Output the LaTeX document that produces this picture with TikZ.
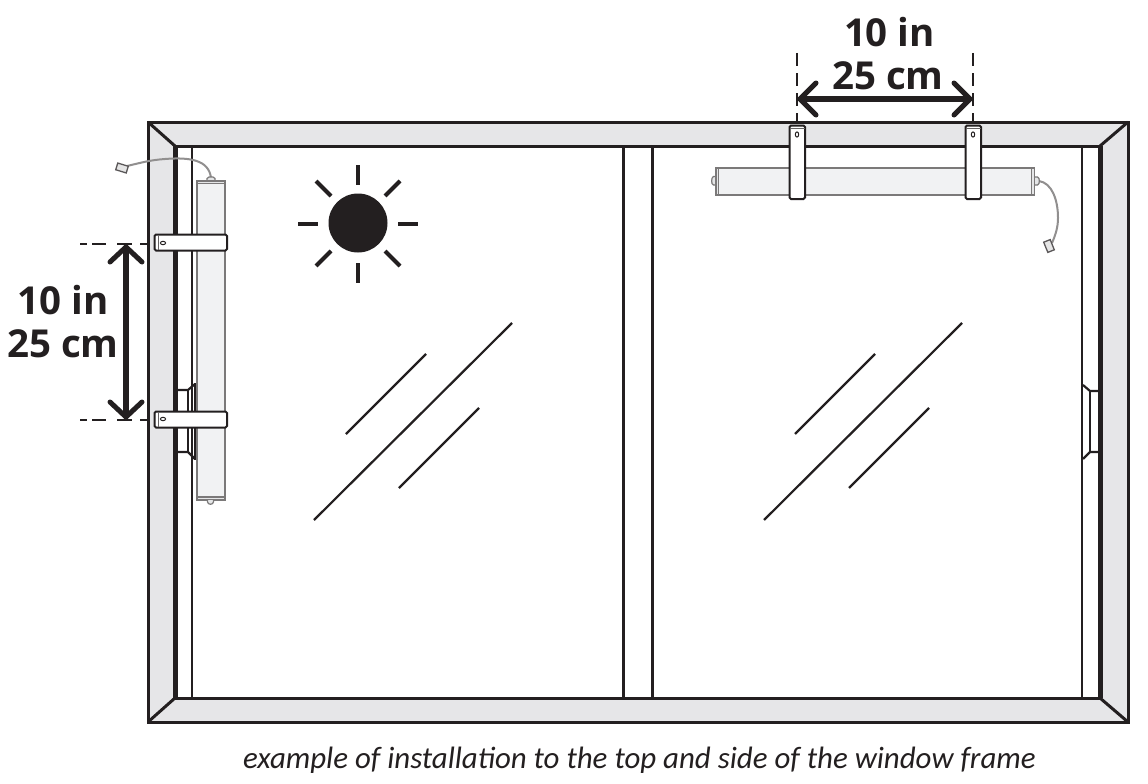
\documentclass[tikz,border=0pt]{standalone}
\usepackage{fontspec}
\setmainfont{Open Sans}
\newfontfamily\capfont{Carlito}
\definecolor{ink}{HTML}{231F20}
\definecolor{framegray}{HTML}{E6E6E8}
\definecolor{tubegray}{HTML}{F1F2F3}
\tikzset{
  frameline/.style={draw=ink,line width=3pt,line join=miter},
  thickjamb/.style={draw=ink,line width=4.5pt},
  thinjamb/.style={draw=ink,line width=2.6pt},
  handleline/.style={draw=ink,line width=2.2pt},
  glass/.style={draw=ink,line width=2.2pt},
  ray/.style={draw=ink,line width=4pt},
  dimline/.style={draw=ink,line width=6pt},
  barb/.style={draw=ink,line width=5pt,line cap=round,line join=miter},
  dashline/.style={draw=ink,line width=2pt},
  tube/.style={draw=ink!60,fill=tubegray,line width=1.5pt},
  tubecap/.style={draw=ink!60,fill=tubegray!95!black,line width=1.2pt},
  clipbox/.style={draw=ink,fill=white,line width=2pt,rounded corners=1.5pt},
  hole/.style={draw=ink,fill=white,line width=1pt},
  cable/.style={draw=ink!50,line width=2pt},
  plugbox/.style={draw=ink!75,fill=white!90!black,line width=1.3pt},
  dimtext/.style={font=\fontsize{38.5}{38.5}\selectfont\bfseries,text=ink,inner sep=0pt,anchor=base},
  captext/.style={font=\capfont\itshape\fontsize{30.9}{30.9}\selectfont,text=ink,inner sep=0pt,anchor=center},
}
\begin{document}
\begin{tikzpicture}[x=1pt,y=-1pt]
\useasboundingbox[fill=white] (0,0) rectangle (1148,784);
% frame
\path[fill=framegray,even odd rule] (148,122) rectangle (1128,722) (175,146) rectangle (1100,698);
\draw[frameline] (148,122) rectangle (1128,722);
\draw[frameline] (175,146) -- (1100,146);
\draw[frameline] (175,698) -- (1100,698);
\draw[frameline] (148,122) -- (175,146);
\draw[frameline] (1128,122) -- (1100,146);
\draw[frameline] (148,722) -- (175,698);
\draw[frameline] (1128,722) -- (1100,698);
% jambs and mullion
\draw[thickjamb] (175.5,146) -- (175.5,698);
\draw[thinjamb] (192,146) -- (192,698);
\draw[thickjamb] (1100.5,146) -- (1100.5,698);
\draw[thinjamb] (1082,146) -- (1082,698);
\draw[draw=ink,line width=3pt] (623.5,146) -- (623.5,698);
\draw[draw=ink,line width=3pt] (652,146) -- (652,698);
% handles
\draw[handleline] (177,390) -- (188,390) -- (195,384);
\draw[handleline] (177,452) -- (188,452) -- (195,459);
\draw[handleline] (188,390) -- (188,452);
\draw[draw=ink,line width=3pt] (195,383) -- (195,460);
\draw[handleline] (1099,391) -- (1090,391) -- (1083,385);
\draw[handleline] (1099,452) -- (1090,452) -- (1083,459);
\draw[handleline] (1090,391) -- (1090,452);
% glass
\draw[glass] (314,520) -- (512,323);
\draw[glass] (346,434) -- (426,354);
\draw[glass] (399,488) -- (479,408);
\draw[glass] (764,520) -- (962,323);
\draw[glass] (795,434) -- (875,354);
\draw[glass] (849,488) -- (929,408);
% sun
\fill[ink] (358,223) circle (29.5);
\draw[ray] (358,165) -- (358,185);
\draw[ray] (358,263) -- (358,283);
\draw[ray] (298,224) -- (318,224);
\draw[ray] (398,224) -- (418,224);
\draw[ray] (316,181) -- (331,196);
\draw[ray] (400,181) -- (385,196);
\draw[ray] (316,266) -- (331,251);
\draw[ray] (400,266) -- (385,251);
% left tube
\draw[cable] (211,178) .. controls (209,160) and (190,157) .. (165,159) .. controls (150,160) and (140,163) .. (127,166);
\draw[plugbox,rotate around={-17:(122,168)}] (116.5,164.5) rectangle (127.5,171.5);
\draw[tubecap] (207,181) -- (207,178.5) -- (209,177) -- (213,177) -- (215,178.5) -- (215,181);
\draw[tube] (197,181) rectangle (225,500);
\draw[tubecap] (197,181) rectangle (225,183.5);
\draw[tubecap] (197,497) rectangle (225,500);
\draw[tubecap] (207.5,500) -- (207.5,502) .. controls (208,505) and (213,505) .. (213.5,502) -- (213.5,500);
\draw[clipbox] (154.5,234.5) rectangle (227,250.5);
\draw[clipbox] (154.5,411.5) rectangle (227,427.5);
\draw[draw=ink!70,line width=1pt] (158,235) -- (158,250) (158,412) -- (158,427);
\draw[hole] (163,243) ellipse (2.6 and 1.7);
\draw[hole] (163,419) ellipse (2.6 and 1.7);
% top tube
\draw[cable] (1039,181) .. controls (1052,183) and (1058,200) .. (1058,218) .. controls (1058,228) and (1055,236) .. (1052,243);
\draw[plugbox,rotate around={22:(1049,246)}] (1045.5,240.5) rectangle (1052.5,251.5);
\draw[tubecap] (716,176.5) -- (713.5,176.5) .. controls (711,177) and (711,185) .. (713.5,185) -- (716,185);
\draw[tubecap] (1035,177) -- (1037.5,177) .. controls (1040,177.5) and (1040,184.5) .. (1037.5,185) -- (1035,185);
\draw[tube] (717,168) rectangle (1034,195);
\draw[tubecap] (716,168) rectangle (718.5,195);
\draw[tubecap] (1031.5,168) rectangle (1034.5,195);
\draw[clipbox] (789.5,125.5) rectangle (805,199);
\draw[clipbox] (965.5,125.5) rectangle (981,199);
\draw[draw=ink!70,line width=1pt] (790,128.5) -- (805,128.5) (966,128.5) -- (981,128.5);
\draw[hole] (797,134.5) ellipse (1.7 and 2.6);
\draw[hole] (973,134.5) ellipse (1.7 and 2.6);
% dimensions
\coordinate (tl) at (800,99);
\coordinate (tr) at (970,99);
\coordinate (lt) at (126,247);
\coordinate (lb) at (126,417);
\draw[dashline] (797,53) -- (797,66) (797,73) -- (797,86) (797,93) -- (797,106) (797,113) -- (797,122);
\draw[dashline] (973,53) -- (973,66) (973,73) -- (973,86) (973,93) -- (973,106) (973,113) -- (973,122);
\draw[dashline] (80,244) -- (87,244) (92,244) -- (106,244) (117,244) -- (132,244) (140,244) -- (147,244);
\draw[dashline] (80,420) -- (87,420) (92,420) -- (106,420) (117,420) -- (132,420) (140,420) -- (147,420);
\draw[dimline] (tl) -- (tr);
\draw[dimline] (lt) -- (lb);
\draw[barb] (816,83) -- (tl) -- (816,115);
\draw[barb] (954,83) -- (tr) -- (954,115);
\draw[barb] (110,262) -- (lt) -- (142,262);
\draw[barb] (110,402) -- (lb) -- (142,402);
\node[dimtext] (ta) at (889.5,47) {10 in};
\node[dimtext] (tb) at (888,89) {25 cm};
\node[dimtext] (la) at (63,314) {10 in};
\node[dimtext] (lb2) at (63,357) {25 cm};
\node[captext] (cap) at (639.5,760) {example of installation to the top and side of the window frame};
\end{tikzpicture}
\end{document}
